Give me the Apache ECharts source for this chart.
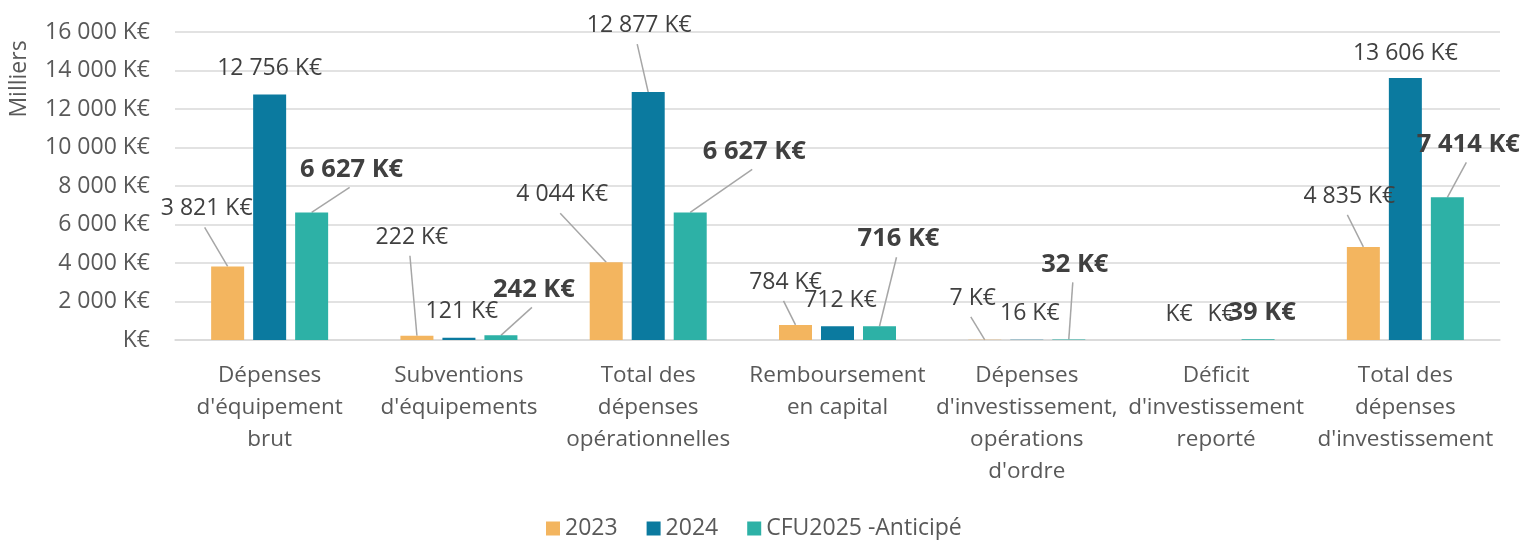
<!DOCTYPE html>
<html>
<head>
<meta charset="utf-8">
<title>Dépenses d'investissement</title>
<script src="https://cdn.jsdelivr.net/npm/echarts@6/dist/echarts.min.js"></script>
<style>
  html, body { margin: 0; padding: 0; background: #fff; }
  #chart { width: 1525px; height: 540px; }
</style>
</head>
<body>
<div id="chart"></div>
<script>
// catégories (axe X)
var categories = [
  "Dépenses\nd'équipement\nbrut",
  "Subventions\nd'équipements",
  "Total des\ndépenses\nopérationnelles",
  "Remboursement\nen capital",
  "Dépenses\nd'investissement,\nopérations\nd'ordre",
  "Déficit\nd'investissement\nreporté",
  "Total des\ndépenses\nd'investissement"
];
var seriesNames = ["2023", "2024", "CFU2025 -Anticipé"];
// valeurs en K€
var values2023 = [3821, 222, 4044, 784, 7, 0, 4835];
var values2024 = [12756, 121, 12877, 712, 16, 0, 13606];
var values2025 = [6627, 242, 6627, 716, 32, 39, 7414];
var yTicks = [0, 2000, 4000, 6000, 8000, 10000, 12000, 14000, 16000];

// décalage des étiquettes (comme dans Excel) + ligne de repère oui/non
var offsets = [
  [[-21, -41], [-5, -82], [-44, -51], [-10, -26], [-12, -25], [5, -9], [-14, -34]],
  [[0, -9], [3, -10], [-9, -50], [3, -9], [3, -10], [5, -9], [0, -8]],
  [[40, -25], [33, -28], [64, -43], [19, -69], [6, -57], [4, -9], [21, -35]]
];
var leaders = [
  [1, 1, 1, 1, 1, 0, 1],
  [0, 0, 1, 0, 0, 0, 0],
  [1, 1, 1, 1, 1, 0, 1]
];

var colors = ["#F3B55F", "#0B7A9F", "#2DB1A6"];
var font = "'Open Sans', 'Noto Sans', sans-serif";
var barWidth = 33;
var barGapPx = 9;

// 12756 -> "12 756 K€", 0 -> "K€"
function fmtKe(v) {
  if (!v) return "K€";
  return String(Math.round(v)).replace(/\B(?=(\d{3})+(?!\d))/g, " ") + " K€";
}

function buildSeries(s, values) {
  var bold = s === 2;
  return {
    name: seriesNames[s],
    type: "bar",
    barWidth: barWidth,
    barGap: (barGapPx / barWidth * 100) + "%",
    itemStyle: { color: colors[s] },
    data: values,
    label: {
      show: true,
      position: "top",
      formatter: function(p) { return fmtKe(p.value); },
      fontFamily: font,
      fontSize: bold ? 25.5 : 23,
      fontWeight: bold ? "bold" : "normal",
      color: "#404040"
    },
    labelLayout: function(params) {
      var o = offsets[s][params.dataIndex];
      return { dx: o[0], dy: o[1] };
    }
  };
}

// lignes de repère : [catégorie, valeur, série]
var allValues = [values2023, values2024, values2025];
var leaderData = [];
allValues.forEach(function(vals, s) {
  vals.forEach(function(v, i) {
    if (leaders[s][i]) leaderData.push([i, v, s]);
  });
});

var chart = echarts.init(document.getElementById("chart"));
var option = {
  animation: false,
  color: colors,
  textStyle: { fontFamily: font },
  grid: { left: 175, right: 25, top: 32, bottom: 200, containLabel: false },
  legend: {
    top: 512,
    left: 541,
    icon: "rect",
    itemWidth: 14,
    itemHeight: 14,
    itemGap: 29,
    textStyle: { fontSize: 23, color: "#595959", fontFamily: font },
    data: seriesNames
  },
  graphic: [
    {
      type: "text",
      x: 19,
      y: 79,
      rotation: Math.PI / 2,
      style: {
        text: "Milliers",
        fontSize: 23,
        fontFamily: font,
        fill: "#595959",
        align: "center",
        verticalAlign: "middle"
      }
    }
  ],
  xAxis: {
    type: "category",
    data: categories,
    axisTick: { show: false },
    axisLine: { lineStyle: { color: "#d9d9d9", width: 1.5 } },
    axisLabel: {
      interval: 0,
      margin: 20,
      fontSize: 22.5,
      lineHeight: 32,
      color: "#595959",
      fontFamily: font
    }
  },
  yAxis: {
    type: "value",
    min: yTicks[0],
    max: yTicks[yTicks.length - 1],
    interval: yTicks[1] - yTicks[0],
    axisLine: { show: false },
    axisTick: { show: false },
    axisLabel: {
      formatter: fmtKe,
      margin: 25,
      fontSize: 23,
      color: "#595959",
      fontFamily: font
    },
    splitLine: { lineStyle: { color: "#d9d9d9", width: 1.5 } }
  },
  series: [
    buildSeries(0, values2023),
    buildSeries(1, values2024),
    buildSeries(2, values2025),
    {
      // trait gris entre l'étiquette déplacée et le haut de la barre
      name: "leaders",
      type: "custom",
      silent: true,
      z: 1,
      encode: { x: 0, y: 1 },
      data: leaderData,
      renderItem: function(params, api) {
        var ci = api.value(0);
        var s = api.value(2);
        var pt = api.coord([ci, api.value(1)]);
        var step = barWidth + barGapPx;
        var bx = pt[0] + (s - 1) * step;
        var by = pt[1];
        var o = offsets[s][ci];
        var base = s === 2 ? 20 : 18;
        var lx = bx + o[0] - 2;
        var ly = by - base + o[1] + 20;
        return {
          type: "line",
          shape: { x1: lx, y1: ly, x2: bx, y2: by },
          style: { stroke: "#a6a6a6", lineWidth: 1.5 }
        };
      }
    }
  ]
};
chart.setOption(option);
</script>
</body>
</html>
